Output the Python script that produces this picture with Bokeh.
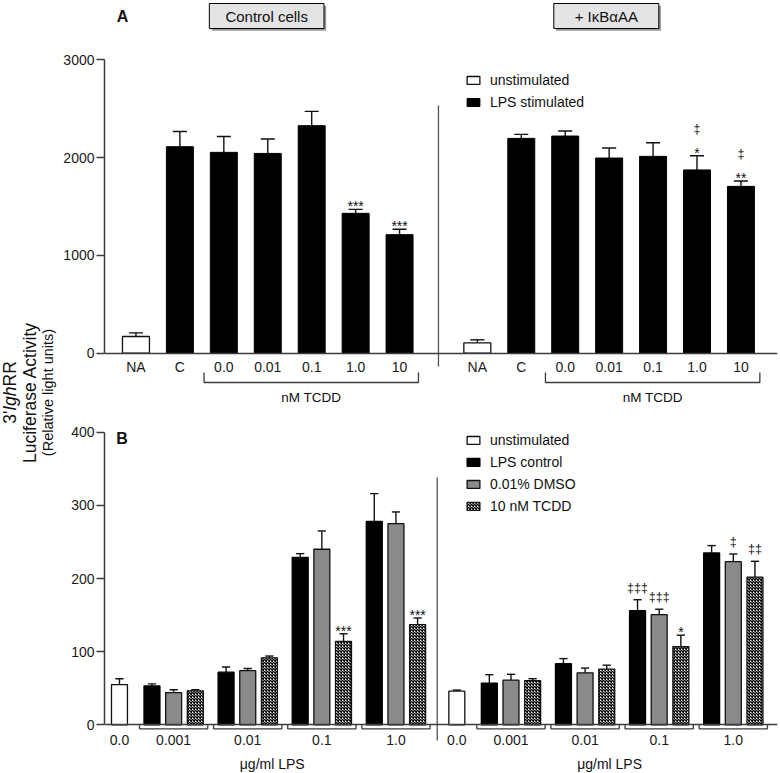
import numpy as np
from bokeh.plotting import figure
from bokeh.models import (ColumnDataSource, Range1d, LinearAxis, FixedTicker,
                          Legend, LegendItem)
from bokeh.layouts import row, column
from bokeh.embed import file_html
from bokeh.resources import INLINE
from bokeh.core.properties import value

FONT = "Liberation Sans"
INK = "#111111"
AXC = "#3c3c3c"

# ---------------- data: panel A ----------------
a_cells = ["Control cells", "+ I\u03baB\u03b1AA"]
a_cats = ["NA", "C", "0.0", "0.01", "0.1", "1.0", "10"]
a_ctrl_mean = [171, 2113, 2055, 2044, 2328, 1431, 1213]
a_ctrl_sem = [37, 156, 163, 148, 146, 41, 55]
a_ctrl_star = ["", "", "", "", "", "***", "***"]
a_ctrl_dag = ["", "", "", "", "", "", ""]
a_ikb_mean = [106, 2198, 2222, 1997, 2014, 1875, 1707]
a_ikb_sem = [31, 41, 51, 103, 140, 146, 55]
a_ikb_star = ["", "", "", "", "", "*", "**"]
a_ikb_dag = ["", "", "", "", "", "\u2021", "\u2021"]
a_yticks = [0, 1000, 2000, 3000]
a_xtitle = "nM TCDD"
a_legend = ["unstimulated", "LPS stimulated"]

# ---------------- data: panel B ----------------
b_zero = "0.0"
b_doses = ["0.001", "0.01", "0.1", "1.0"]
b_legend = ["unstimulated", "LPS control", "0.01% DMSO", "10 nM TCDD"]
b_ctrl_unstim = [55]
b_ctrl_unstim_sem = [8]
b_ikb_unstim = [46]
b_ikb_unstim_sem = [1.5]
b_ctrl_lps = [53, 72, 229, 278]
b_ctrl_lps_sem = [3, 7, 5, 38]
b_ctrl_dmso = [44, 74, 240, 275]
b_ctrl_dmso_sem = [4, 3, 25, 16]
b_ctrl_tcdd = [46.5, 91.5, 114, 137]
b_ctrl_tcdd_sem = [1.5, 2.5, 10.5, 9]
b_ikb_lps = [57, 83.5, 156, 235]
b_ikb_lps_sem = [11.5, 7, 15, 10]
b_ikb_dmso = [61, 71, 150.5, 223]
b_ikb_dmso_sem = [8, 6.5, 7.5, 10.5]
b_ikb_tcdd = [60.5, 76, 107, 202]
b_ikb_tcdd_sem = [2.5, 5.5, 15.5, 21.5]
b_ctrl_tcdd_star = ["", "", "***", "***"]
b_ikb_tcdd_star = ["", "", "*", ""]
b_ikb_lps_dag = ["", "", "\u2021\u2021\u2021", ""]
b_ikb_dmso_dag = ["", "", "\u2021\u2021\u2021", "\u2021"]
b_ikb_tcdd_dag = ["", "", "", "\u2021\u2021"]
b_yticks = [0, 100, 200, 300, 400]
b_xtitle = "\u03bcg/ml LPS"

ylab = ["3'", "Igh", "RR", "Luciferase Activity", "(Relative light units)"]

# ---------------- layout constants ----------------
W_L, FW, HA, HB = 60, 720, 413, 360
UA = 1 / 0.097733   # panel A data units per pixel (y)
UB = 1 / 0.7315     # panel B data units per pixel (y)


def style_axis(ax, size="14px"):
    ax.axis_line_color = AXC
    ax.axis_line_width = 1.5
    ax.major_tick_line_color = AXC
    ax.major_tick_line_width = 1.5
    ax.minor_tick_line_color = None
    ax.major_label_text_font = FONT
    ax.major_label_text_font_size = size
    ax.major_label_text_color = "#1a1a1a"


def base_fig(h, xr, yr):
    p = figure(width=FW, height=h, x_range=Range1d(*xr), y_range=Range1d(*yr),
               output_backend="svg", toolbar_location=None,
               x_axis_type=None, y_axis_type=None,
               min_border_left=43, min_border_right=3,
               min_border_top=0, min_border_bottom=0)
    p.outline_line_color = None
    p.background_fill_color = "white"
    p.border_fill_color = "white"
    return p


def errbars(p, xs, tops, sems, cap, lw=1.4):
    xs = [float(x) for x in xs]
    hi = [t + s for t, s in zip(tops, sems)]
    src = ColumnDataSource(dict(x=xs, top=list(tops), hi=hi,
                                l=[x - cap for x in xs], r=[x + cap for x in xs]))
    p.segment(x0="x", y0="top", x1="x", y1="hi", source=src, line_color=INK, line_width=lw)
    p.segment(x0="l", y0="hi", x1="r", y1="hi", source=src, line_color=INK, line_width=lw)
    return hi


def marks(p, xs, ys, texts, size):
    pts = [(float(x), float(y), t) for x, y, t in zip(xs, ys, texts) if t]
    if pts:
        p.text(x=[a for a, _, _ in pts], y=[b for _, b, _ in pts], text=[c for _, _, c in pts],
               text_font=value(FONT), text_font_size=size, text_align="center",
               text_baseline="alphabetic", text_color=INK)


def legend(p, labels, rends, loc):
    leg = Legend(items=[LegendItem(label=value(l), renderers=[r]) for l, r in zip(labels, rends)],
                 location=loc, orientation="vertical", glyph_width=16, glyph_height=10,
                 label_standoff=9, spacing=2, padding=0, margin=0,
                 border_line_color=None, background_fill_alpha=0,
                 label_text_font=FONT, label_text_font_size="14px",
                 label_height=20, label_text_color=INK)
    p.add_layout(leg)


# ================= panel A =================
A_GAP = 7.77
A_W = 0.614
A_CAP = 0.16
xa = [np.arange(7.0), np.arange(7.0) + A_GAP]
pA = base_fig(HA, (-0.716, 14.602), (-617, 3608.8))

ya = LinearAxis(bounds=(0, 3000), ticker=FixedTicker(ticks=a_yticks, minor_ticks=[]))
style_axis(ya)
ya.major_tick_out = 8
ya.major_tick_in = 0
ya.major_label_standoff = 2
pA.add_layout(ya, "left")

a_ticks = [float(t) for t in list(xa[0]) + list(xa[1])]
xax = LinearAxis(fixed_location=0, ticker=FixedTicker(ticks=a_ticks, minor_ticks=[]),
                 major_label_overrides={t: lab for t, lab in zip(a_ticks, a_cats * 2)})
style_axis(xax)
xax.major_tick_out = 0
xax.major_tick_in = 0
xax.major_label_standoff = 6
pA.add_layout(xax, "below")

means = [a_ctrl_mean, a_ikb_mean]
sems = [a_ctrl_sem, a_ikb_sem]
un_src = ColumnDataSource(dict(x=[float(xa[0][0]), float(xa[1][0])],
                               top=[a_ctrl_mean[0], a_ikb_mean[0]]))
lps_src = ColumnDataSource(dict(x=[float(v) for v in list(xa[0][1:]) + list(xa[1][1:])],
                                top=a_ctrl_mean[1:] + a_ikb_mean[1:]))
for g in range(2):
    errbars(pA, xa[g], means[g], sems[g], A_CAP)
r_un = pA.vbar(x="x", top="top", bottom=0, width=A_W, source=un_src,
               fill_color="white", line_color=INK, line_width=1.3)
r_lps = pA.vbar(x="x", top="top", bottom=0, width=A_W, source=lps_src,
                fill_color="black", line_color="black", line_width=1.0)

for g, (st, dg) in enumerate([(a_ctrl_star, a_ctrl_dag), (a_ikb_star, a_ikb_dag)]):
    hi = [m + s for m, s in zip(means[g], sems[g])]
    marks(pA, xa[g], [h + 3 * UA for h in hi], st, "14px")
    marks(pA, xa[g], [h + 26.5 * UA for h in hi], dg, "12.5px")

# brackets and titles below axis
bl, br = 1.55, 6.43
pA.multi_line(xs=[[bl + o, bl + o, br + o, br + o] for o in (0, A_GAP)],
              ys=[[-197, -300, -300, -197]] * 2, line_color=AXC, line_width=1.3)
pA.text(x=[(bl + br) / 2, (bl + br) / 2 + A_GAP], y=[-453, -453], text=[a_xtitle] * 2,
        text_font=value(FONT), text_font_size="13.5px", text_align="center",
        text_baseline="middle", text_color=INK)

# divider
xd = (6 + A_GAP) / 2
pA.segment(x0=[xd], y0=[2534], x1=[xd], y1=[-136], line_color="#555555", line_width=1.3)

# header boxes
BOX = [(1.67, 4.28), (1.74, 4.13)]
lefts = [b[0] + o for b, o in zip(BOX, (0, A_GAP))]
rights = [b[1] + o for b, o in zip(BOX, (0, A_GAP))]
pA.quad(left=[l + 0.05 for l in lefts], right=[r + 0.05 for r in rights],
        top=[3578 - 22] * 2, bottom=[3322 - 22] * 2, fill_color="#9a9a9a", line_color=None)
pA.quad(left=lefts, right=rights, top=[3578] * 2, bottom=[3322] * 2,
        fill_color="#e4e4e4", line_color="black", line_width=1)
pA.text(x=[(l + r) / 2 for l, r in zip(lefts, rights)], y=[3450] * 2, text=a_cells,
        text_font=value(FONT), text_font_size="15px", text_align="center",
        text_baseline="middle", text_color=INK)
pA.text(x=[-0.307], y=[3447], text=["A"], text_font=value(FONT), text_font_size="16px",
        text_font_style="bold", text_align="center", text_baseline="middle", text_color=INK)

legend(pA, a_legend, [r_un, r_lps], (361, 301))

# ================= panel B =================
B_GAP = 15.57
B_C = [2.5 + 3.42 * k for k in range(4)]
B_W = 0.737
B_CAP = 0.19
pB = base_fig(HB, (-0.691, 30.37), (-66.6, 425.6))

yb = LinearAxis(bounds=(0, 400), ticker=FixedTicker(ticks=b_yticks, minor_ticks=[]))
style_axis(yb)
yb.major_tick_out = 8
yb.major_tick_in = 0
yb.major_label_standoff = 2
pB.add_layout(yb, "left")

b_ticks = [0.0] + B_C + [B_GAP] + [B_GAP + c for c in B_C]
xbx = LinearAxis(fixed_location=0, ticker=FixedTicker(ticks=b_ticks, minor_ticks=[]),
                 major_label_overrides={t: lab for t, lab in zip(b_ticks, ([b_zero] + b_doses) * 2)})
style_axis(xbx)
xbx.major_tick_out = 0
xbx.major_tick_in = 0
xbx.major_label_standoff = 10
pB.add_layout(xbx, "below")

# unstimulated bars
ub_x = [0.0, B_GAP]
ub_top = b_ctrl_unstim + b_ikb_unstim
errbars(pB, ub_x, ub_top, b_ctrl_unstim_sem + b_ikb_unstim_sem, B_CAP)
r_bun = pB.vbar(x=ub_x, top=ub_top, bottom=0, width=B_W,
                fill_color="white", line_color=INK, line_width=1.3)

series = [
    (-1, b_ctrl_lps, b_ctrl_lps_sem, b_ikb_lps, b_ikb_lps_sem,
     dict(fill_color="black", line_color="black")),
    (0, b_ctrl_dmso, b_ctrl_dmso_sem, b_ikb_dmso, b_ikb_dmso_sem,
     dict(fill_color="#8a8a8a", line_color=INK)),
    (1, b_ctrl_tcdd, b_ctrl_tcdd_sem, b_ikb_tcdd, b_ikb_tcdd_sem,
     dict(fill_color="white", line_color=INK, hatch_pattern="x", hatch_color="black",
          hatch_scale=3.0, hatch_weight=1.5)),
]
b_rends = [r_bun]
his = {}
for off, cm, cs, im, isem, sty in series:
    xs = [c + off for c in B_C] + [B_GAP + c + off for c in B_C]
    tops = cm + im
    hi = errbars(pB, xs, tops, cs + isem, B_CAP)
    his[off] = (xs, hi)
    r = pB.vbar(x=xs, top=tops, bottom=0, width=B_W, line_width=1.3, **sty)
    b_rends.append(r)

# significance marks
xs, hi = his[1]
marks(pB, xs, [h + 3 * UB for h in hi], b_ctrl_tcdd_star + b_ikb_tcdd_star, "14px")
for off, dag in ((-1, b_ikb_lps_dag), (0, b_ikb_dmso_dag), (1, b_ikb_tcdd_dag)):
    xs, hi = his[off]
    marks(pB, xs[4:], [h + 12 * UB for h in hi[4:]], dag, "12.5px")

# brackets under groups
bw = 1.576
bxs, bys = [], []
for o in (0, B_GAP):
    for c in B_C:
        bxs.append([o + c - bw, o + c - bw, o + c + bw, o + c + bw])
        bys.append([0, -5.5, -5.5, 0])
pB.multi_line(xs=bxs, ys=bys, line_color=AXC, line_width=1.3)
pB.text(x=[7.05, 7.05 + B_GAP], y=[-54, -54], text=[b_xtitle] * 2,
        text_font=value(FONT), text_font_size="14px", text_align="center",
        text_baseline="middle", text_color=INK)

xdb = (B_C[-1] + 1 + B_GAP) / 2
pB.segment(x0=[xdb], y0=[338], x1=[xdb], y1=[-21.5], line_color="#555555", line_width=1.3)
pB.text(x=[0.115], y=[392], text=["B"], text_font=value(FONT), text_font_size="16px",
        text_font_style="bold", text_align="center", text_baseline="middle", text_color=INK)

legend(pB, b_legend, b_rends, (361, 257))

# ================= shared y label =================
H = HA + HB
pL = figure(width=W_L, height=H, x_range=Range1d(0, W_L), y_range=Range1d(0, H),
            output_backend="svg", toolbar_location=None, x_axis_type=None, y_axis_type=None,
            min_border=0)
pL.outline_line_color = None
fs = 17.5
w3 = 0.747 * fs
wigh = 1.39 * fs
wrr = 1.444 * fs
YC = 392
y0 = H - (YC + (w3 + wigh + wrr) / 2)
for txt, yy, style in ((ylab[0], y0, "normal"), (ylab[1], y0 + w3, "italic"),
                       (ylab[2], y0 + w3 + wigh, "normal")):
    pL.text(x=[9], y=[yy], text=[txt], angle=np.pi / 2, text_font=value(FONT),
            text_font_size=f"{fs}px", text_font_style=style, text_align="left",
            text_baseline="middle", text_color=INK)
pL.text(x=[29], y=[H - YC], text=[ylab[3]], angle=np.pi / 2, text_font=value(FONT),
        text_font_size=f"{fs}px", text_align="center", text_baseline="middle", text_color=INK)
pL.text(x=[47], y=[H - YC], text=[ylab[4]], angle=np.pi / 2, text_font=value(FONT),
        text_font_size="14.5px", text_align="center", text_baseline="middle", text_color=INK)

layout = row(pL, column(pA, pB))
open("out.html", "w").write(file_html(layout, INLINE, "chart"))
